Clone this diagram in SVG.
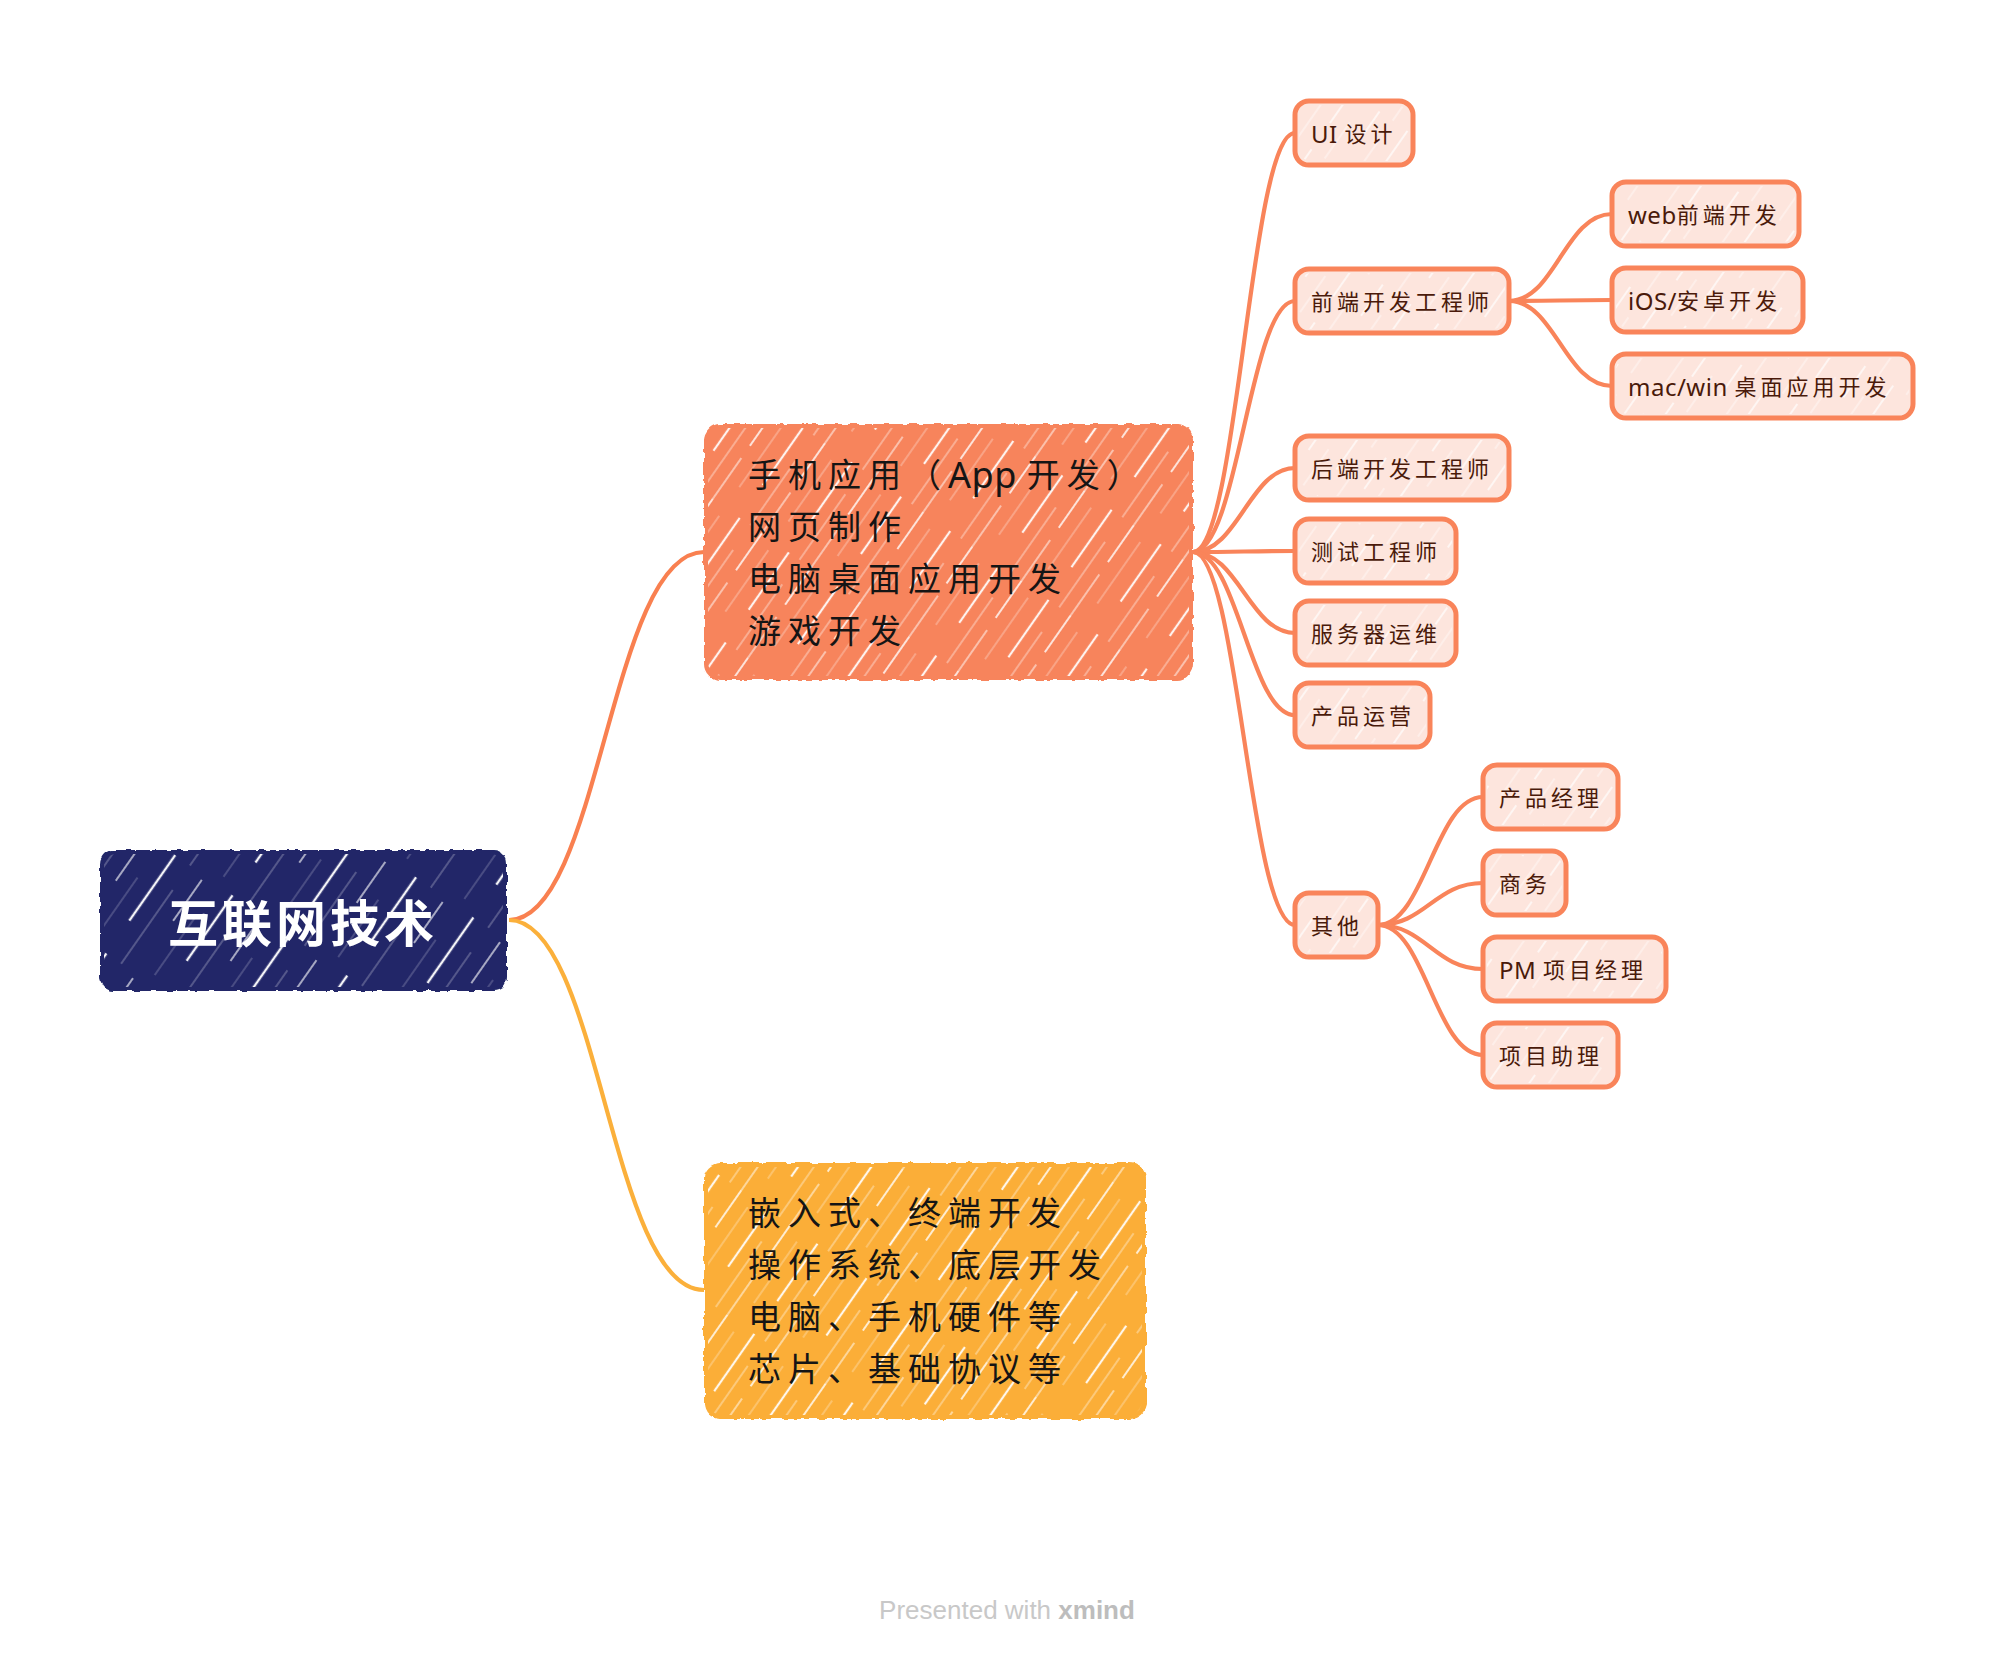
<svg xmlns="http://www.w3.org/2000/svg" width="2012" height="1658" viewBox="0 0 2012 1658">
<style>
.sub rect.bg{fill:#fde5dd;stroke:#f9845a;stroke-width:5}
.sub rect.ht{fill:url(#hatchFaint);stroke:none}
.sub text{font-family:"Noto Sans","Noto Sans CJK SC",sans-serif;font-size:22px;letter-spacing:4px;fill:#4a1a0a;dominant-baseline:central}
.main text{font-family:"Noto Sans","Noto Sans CJK SC",sans-serif;font-size:33px;letter-spacing:7px;fill:#151515;dominant-baseline:central}
.lat{letter-spacing:0.5px}
.conn path{fill:none;stroke:#f9845a;stroke-width:4.2;stroke-linecap:round}
</style>
<defs>
<filter id="rough" x="-5%" y="-5%" width="110%" height="110%">
<feTurbulence type="fractalNoise" baseFrequency="0.12" numOctaves="2" seed="4"/>
<feDisplacementMap in="SourceGraphic" scale="5" xChannelSelector="R" yChannelSelector="G"/>
</filter>
<pattern id="hatchW" width="60" height="110" patternUnits="userSpaceOnUse" patternTransform="rotate(35)">
<line x1="3" y1="0" x2="3" y2="70" stroke="#fff" stroke-width="2.2" opacity="0.9"/>
<line x1="16" y1="30" x2="16" y2="110" stroke="#fff" stroke-width="1.2" opacity="0.55"/>
<line x1="30" y1="-2" x2="30" y2="45" stroke="#fff" stroke-width="1.8" opacity="0.85"/>
<line x1="30" y1="60" x2="30" y2="110" stroke="#fff" stroke-width="1.4" opacity="0.7"/>
<line x1="45" y1="10" x2="45" y2="85" stroke="#fff" stroke-width="1" opacity="0.5"/>
</pattern>
<pattern id="hatchRoot" width="70" height="120" patternUnits="userSpaceOnUse" patternTransform="rotate(35)">
<line x1="4" y1="0" x2="4" y2="80" stroke="#fff" stroke-width="2.4" opacity="0.95"/>
<line x1="22" y1="30" x2="22" y2="120" stroke="#fff" stroke-width="1" opacity="0.45"/>
<line x1="40" y1="5" x2="40" y2="55" stroke="#fff" stroke-width="1.6" opacity="0.75"/>
<line x1="56" y1="40" x2="56" y2="110" stroke="#fff" stroke-width="1" opacity="0.35"/>
</pattern>
<pattern id="hatchFaint" width="34" height="70" patternUnits="userSpaceOnUse" patternTransform="rotate(35)">
<line x1="4" y1="0" x2="4" y2="38" stroke="#fff" stroke-width="1.6" opacity="0.8"/>
<line x1="20" y1="26" x2="20" y2="70" stroke="#fff" stroke-width="1.2" opacity="0.6"/>
</pattern>
</defs>
<rect width="2012" height="1658" fill="#fff"/>

<g id="connectors">
<path d="M509,920 C600,920 610,552 704,552" style="stroke:#f98050;stroke-width:4.2;fill:none"/>
<path d="M509,920 C600,920 610,1290 704,1290" style="stroke:#fbb03b;stroke-width:4.2;fill:none"/>
<g class="conn">
<path d="M1193,552 C1238,552 1250,133 1295,133"/>
<path d="M1193,552 C1238,552 1250,301 1295,301"/>
<path d="M1193,552 C1238,552 1250,468 1295,468"/>
<path d="M1193,552 C1238,552 1250,551 1295,551"/>
<path d="M1193,552 C1238,552 1250,633 1295,633"/>
<path d="M1193,552 C1238,552 1250,715 1295,715"/>
<path d="M1193,552 C1238,552 1250,925 1295,925"/>
<path d="M1509,301 C1555,301 1565,214 1612,214"/>
<path d="M1509,301 C1555,301 1565,300 1612,300"/>
<path d="M1509,301 C1555,301 1565,386 1612,386"/>
<path d="M1378,925 C1425,925 1435,797 1483,797"/>
<path d="M1378,925 C1425,925 1435,883 1483,883"/>
<path d="M1378,925 C1425,925 1435,969 1483,969"/>
<path d="M1378,925 C1425,925 1435,1055 1483,1055"/>
</g>
</g>

<g id="root">
<rect x="100" y="850" width="407" height="141" rx="14" fill="#202868" filter="url(#rough)"/>
<rect x="104" y="854" width="399" height="133" rx="12" fill="url(#hatchRoot)"/>
<text x="303" y="920" text-anchor="middle" dominant-baseline="central" style="font-family:'Noto Sans CJK SC',sans-serif;font-weight:bold;font-size:50px;letter-spacing:4px;fill:#fff">互联网技术</text>
</g>

<g id="n-app" class="main">
<rect x="704" y="424" width="489" height="256" rx="16" fill="#f7845b" filter="url(#rough)"/>
<rect x="708" y="428" width="481" height="248" rx="14" fill="url(#hatchW)"/>
<text x="748" y="474">手机应用（<tspan class="lat" style="font-size:36px">App </tspan>开发）</text>
<text x="748" y="526">网页制作</text>
<text x="748" y="578">电脑桌面应用开发</text>
<text x="748" y="630">游戏开发</text>
</g>

<g id="n-embedded" class="main">
<rect x="704" y="1163" width="442" height="256" rx="16" fill="#fbae38" filter="url(#rough)"/>
<rect x="708" y="1167" width="434" height="248" rx="14" fill="url(#hatchW)"/>
<text x="748" y="1212">嵌入式、终端开发</text>
<text x="748" y="1264">操作系统、底层开发</text>
<text x="748" y="1316">电脑、手机硬件等</text>
<text x="748" y="1368">芯片、基础协议等</text>
</g>

<g id="n-ui" class="sub"><rect class="bg" x="1295" y="101" width="118" height="64" rx="14"/><rect class="ht" x="1299" y="105" width="110" height="56" rx="12"/><text x="1311" y="133"><tspan class="lat" style="font-size:24px">UI </tspan>设计</text></g>
<g id="n-frontend" class="sub"><rect class="bg" x="1295" y="269" width="214" height="64" rx="14"/><rect class="ht" x="1299" y="273" width="206" height="56" rx="12"/><text x="1311" y="301">前端开发工程师</text></g>
<g id="n-web" class="sub"><rect class="bg" x="1612" y="182" width="187" height="64" rx="14"/><rect class="ht" x="1616" y="186" width="179" height="56" rx="12"/><text x="1628" y="214"><tspan class="lat" style="font-size:24px">web</tspan>前端开发</text></g>
<g id="n-ios" class="sub"><rect class="bg" x="1612" y="268" width="191" height="64" rx="14"/><rect class="ht" x="1616" y="272" width="183" height="56" rx="12"/><text x="1628" y="300"><tspan class="lat" style="font-size:24px">iOS/</tspan>安卓开发</text></g>
<g id="n-mac" class="sub"><rect class="bg" x="1612" y="354" width="301" height="64" rx="14"/><rect class="ht" x="1616" y="358" width="293" height="56" rx="12"/><text x="1628" y="386"><tspan class="lat" style="font-size:24px">mac/win </tspan>桌面应用开发</text></g>
<g id="n-backend" class="sub"><rect class="bg" x="1295" y="436" width="214" height="64" rx="14"/><rect class="ht" x="1299" y="440" width="206" height="56" rx="12"/><text x="1311" y="468">后端开发工程师</text></g>
<g id="n-test" class="sub"><rect class="bg" x="1295" y="519" width="161" height="64" rx="14"/><rect class="ht" x="1299" y="523" width="153" height="56" rx="12"/><text x="1311" y="551">测试工程师</text></g>
<g id="n-ops" class="sub"><rect class="bg" x="1295" y="601" width="161" height="64" rx="14"/><rect class="ht" x="1299" y="605" width="153" height="56" rx="12"/><text x="1311" y="633">服务器运维</text></g>
<g id="n-operation" class="sub"><rect class="bg" x="1295" y="683" width="135" height="64" rx="14"/><rect class="ht" x="1299" y="687" width="127" height="56" rx="12"/><text x="1311" y="715">产品运营</text></g>
<g id="n-other" class="sub"><rect class="bg" x="1295" y="893" width="83" height="64" rx="14"/><rect class="ht" x="1299" y="897" width="75" height="56" rx="12"/><text x="1311" y="925">其他</text></g>
<g id="n-pm" class="sub"><rect class="bg" x="1483" y="765" width="135" height="64" rx="14"/><rect class="ht" x="1487" y="769" width="127" height="56" rx="12"/><text x="1499" y="797">产品经理</text></g>
<g id="n-biz" class="sub"><rect class="bg" x="1483" y="851" width="83" height="64" rx="14"/><rect class="ht" x="1487" y="855" width="75" height="56" rx="12"/><text x="1499" y="883">商务</text></g>
<g id="n-pm2" class="sub"><rect class="bg" x="1483" y="937" width="183" height="64" rx="14"/><rect class="ht" x="1487" y="941" width="175" height="56" rx="12"/><text x="1499" y="969"><tspan class="lat" style="font-size:24px">PM </tspan>项目经理</text></g>
<g id="n-assist" class="sub"><rect class="bg" x="1483" y="1023" width="135" height="64" rx="14"/><rect class="ht" x="1487" y="1027" width="127" height="56" rx="12"/><text x="1499" y="1055">项目助理</text></g>

<text x="1007" y="1610" text-anchor="middle" dominant-baseline="central" style="font-family:'Liberation Sans',sans-serif;font-size:26px;fill:#c8c8c8">Presented with <tspan font-weight="bold" fill="#bdbdbd">xmind</tspan></text>
</svg>
